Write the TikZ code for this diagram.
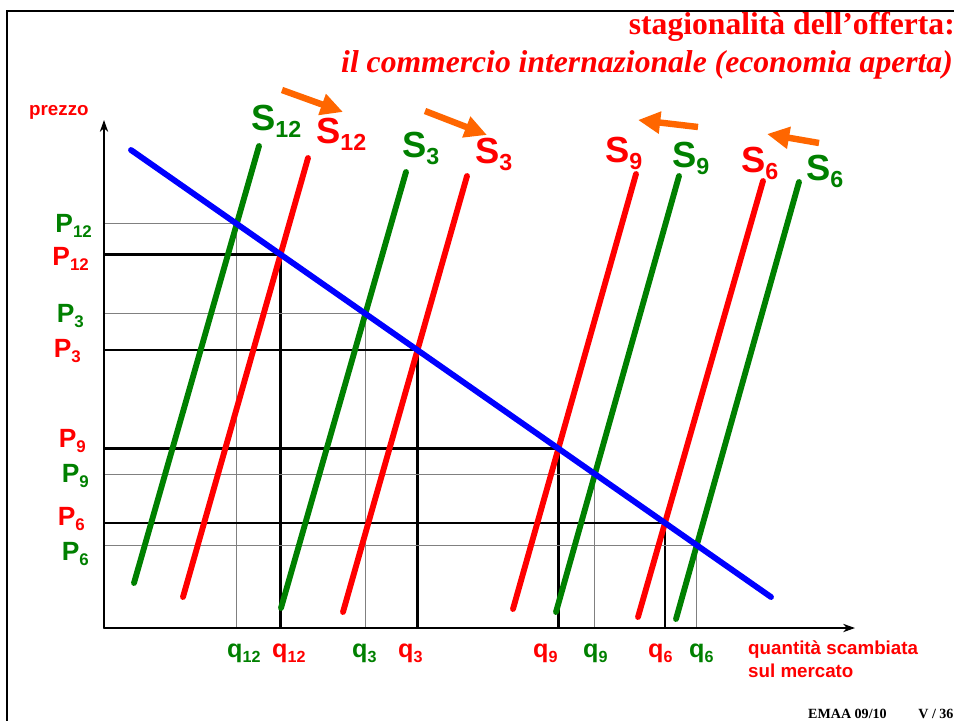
\documentclass[tikz,border=0pt]{standalone}
\usepackage{fontspec}
\setmainfont{Liberation Serif}
\setsansfont{Liberation Sans}
\usepackage{xcolor}
\usepackage{tikz}
\usetikzlibrary{arrows,arrows.meta,intersections}
\definecolor{verde}{RGB}{0,128,0}
\definecolor{rosso}{RGB}{255,0,0}
\definecolor{blu}{RGB}{0,0,255}
\definecolor{arancio}{RGB}{255,102,0}
\tikzset{axis/.style = {->,> = {Stealth[length=10pt,width=7pt,inset=3pt]}, line width=1.6pt}}
\newcommand{\low}[1]{\raisebox{-0.2em}{\scalebox{0.64}{#1}}}

\begin{document}
\begin{tikzpicture}[x=0.03cm,y=-0.03cm,line cap=round,
    curve/.style={line width=5pt},
    shiftarrow/.style={arancio,line width=5.5pt,line cap=butt,-{Triangle[length=19pt,width=18pt]}},
    gguide/.style={gray,line width=0.8pt,line cap=butt},
    rguide/.style={black,line width=2pt,line cap=butt},
    slabel/.style={font=\sffamily\bfseries\fontsize{31}{31}\selectfont,inner sep=0pt,anchor=base west},
    plabel/.style={font=\sffamily\bfseries\fontsize{22.5}{22.5}\selectfont,inner sep=0pt,anchor=base east},
    qlabel/.style={font=\sffamily\bfseries\fontsize{21.5}{21.5}\selectfont,inner sep=0pt,anchor=base west}]
    \useasboundingbox (0,0) rectangle (954,720);
    % cornice
    \draw[line width=1.7pt,line cap=butt] (7,740) -- (7,11) -- (970,11);

    \coordinate (O) at (104,628);
    \coordinate (ytip) at (104,120);
    \coordinate (xtip) at (855,628);
    \coordinate (d1) at (131,150);
    \coordinate (d2) at (771,597);
    \path[name path global=dem] (d1) -- (d2);

    % curve di offerta
    \foreach \n/\xa/\ya/\xb/\yb in {g12/134/583/259/146, r12/183/597/308/158,
        g3/281/608/406/172, r3/343/612/467/176, r9/513/609/636/174,
        g9/556/612/679/176, r6/638/617/763/181, g6/676/619/799/182}
    {
        \coordinate (\n a) at (\xa,\ya);
        \coordinate (\n b) at (\xb,\yb);
        \path[name path global=s\n] (\n a) -- (\n b);
        \path[name intersections={of=dem and s\n, by=e\n}];
    }

    % linee di riferimento
    \foreach \n/\g in {g12/gguide, r12/rguide, g3/gguide, r3/rguide,
        r9/rguide, g9/gguide, r6/rguide, g6/gguide}
        \draw[\g] (O |- e\n) -- (e\n) -- (e\n |- O);

    \foreach \n/\c in {g12/verde, r12/rosso, g3/verde, r3/rosso,
        r9/rosso, g9/verde, r6/rosso, g6/verde}
        \draw[curve,\c] (\n a) -- (\n b);
    \draw[curve,blu] (d1) -- (d2);

    \draw[axis] (O) -- (ytip);
    \draw[axis] (O) -- (xtip);

    % spostamenti
    \coordinate (f1a) at (282,90);  \coordinate (f1b) at (343,112);
    \coordinate (f2a) at (425,111); \coordinate (f2b) at (487,135);
    \coordinate (f3a) at (698,127); \coordinate (f3b) at (638,120);
    \coordinate (f4a) at (819,143); \coordinate (f4b) at (767,134);
    \draw[shiftarrow] (f1a) -- (f1b);
    \draw[shiftarrow] (f2a) -- (f2b);
    \draw[shiftarrow] (f3a) -- (f3b);
    \draw[shiftarrow] (f4a) -- (f4b);

    % etichette
    \node[slabel,text=verde] (Sg12) at (251,130) {S\low{12}};
    \node[slabel,text=rosso] (Sr12) at (316,143) {S\low{12}};
    \node[slabel,text=verde] (Sg3) at (402,157) {S\low{3}};
    \node[slabel,text=rosso] (Sr3) at (475,163) {S\low{3}};
    \node[slabel,text=rosso] (Sr9) at (605,162) {S\low{9}};
    \node[slabel,text=verde] (Sg9) at (672,167) {S\low{9}};
    \node[slabel,text=rosso] (Sr6) at (741,172) {S\low{6}};
    \node[slabel,text=verde] (Sg6) at (806,180) {S\low{6}};

    \node[plabel,text=verde] (Pg12) at (92,232) {P\low{12}};
    \node[plabel,text=rosso] (Pr12) at (89,265) {P\low{12}};
    \node[plabel,text=verde] (Pg3) at (84,322) {P\low{3}};
    \node[plabel,text=rosso] (Pr3) at (81,357) {P\low{3}};
    \node[plabel,text=rosso] (Pr9) at (86,447) {P\low{9}};
    \node[plabel,text=verde] (Pg9) at (89,482) {P\low{9}};
    \node[plabel,text=rosso] (Pr6) at (85,525) {P\low{6}};
    \node[plabel,text=verde] (Pg6) at (89,560) {P\low{6}};

    \node[qlabel,text=verde] (qg12) at (227,657) {q\low{12}};
    \node[qlabel,text=rosso] (qr12) at (272,657) {q\low{12}};
    \node[qlabel,text=verde] (qg3) at (352,657) {q\low{3}};
    \node[qlabel,text=rosso] (qr3) at (398,657) {q\low{3}};
    \node[qlabel,text=rosso] (qr9) at (533,657) {q\low{9}};
    \node[qlabel,text=verde] (qg9) at (583,657) {q\low{9}};
    \node[qlabel,text=rosso] (qr6) at (648,657) {q\low{6}};
    \node[qlabel,text=verde] (qg6) at (689,657) {q\low{6}};

    \node[font=\sffamily\bfseries\fontsize{16}{16}\selectfont,text=rosso,inner sep=0pt,anchor=base west] (prezzo) at (29,115) {prezzo};
    \node[font=\sffamily\bfseries\fontsize{16}{19.6}\selectfont,text=rosso,inner sep=0pt,anchor=base west,align=left] (quantita) at (748,677) {quantità scambiata\\sul mercato};

    \node[font=\rmfamily\bfseries\fontsize{27}{27}\selectfont,text=rosso,inner sep=0pt,anchor=base east] (titolo) at (955,34) {stagionalità dell'offerta:};
    \node[font=\rmfamily\bfseries\itshape\fontsize{27}{27}\selectfont,text=rosso,inner sep=0pt,anchor=base east] (sottotitolo) at (953,72) {il commercio internazionale (economia aperta)};
    \node[font=\rmfamily\bfseries\fontsize{12}{12}\selectfont,inner sep=0pt,anchor=base west] (piede) at (808,718) {EMAA 09/10\hspace{27pt}V / 36};
\end{tikzpicture}
\end{document}
